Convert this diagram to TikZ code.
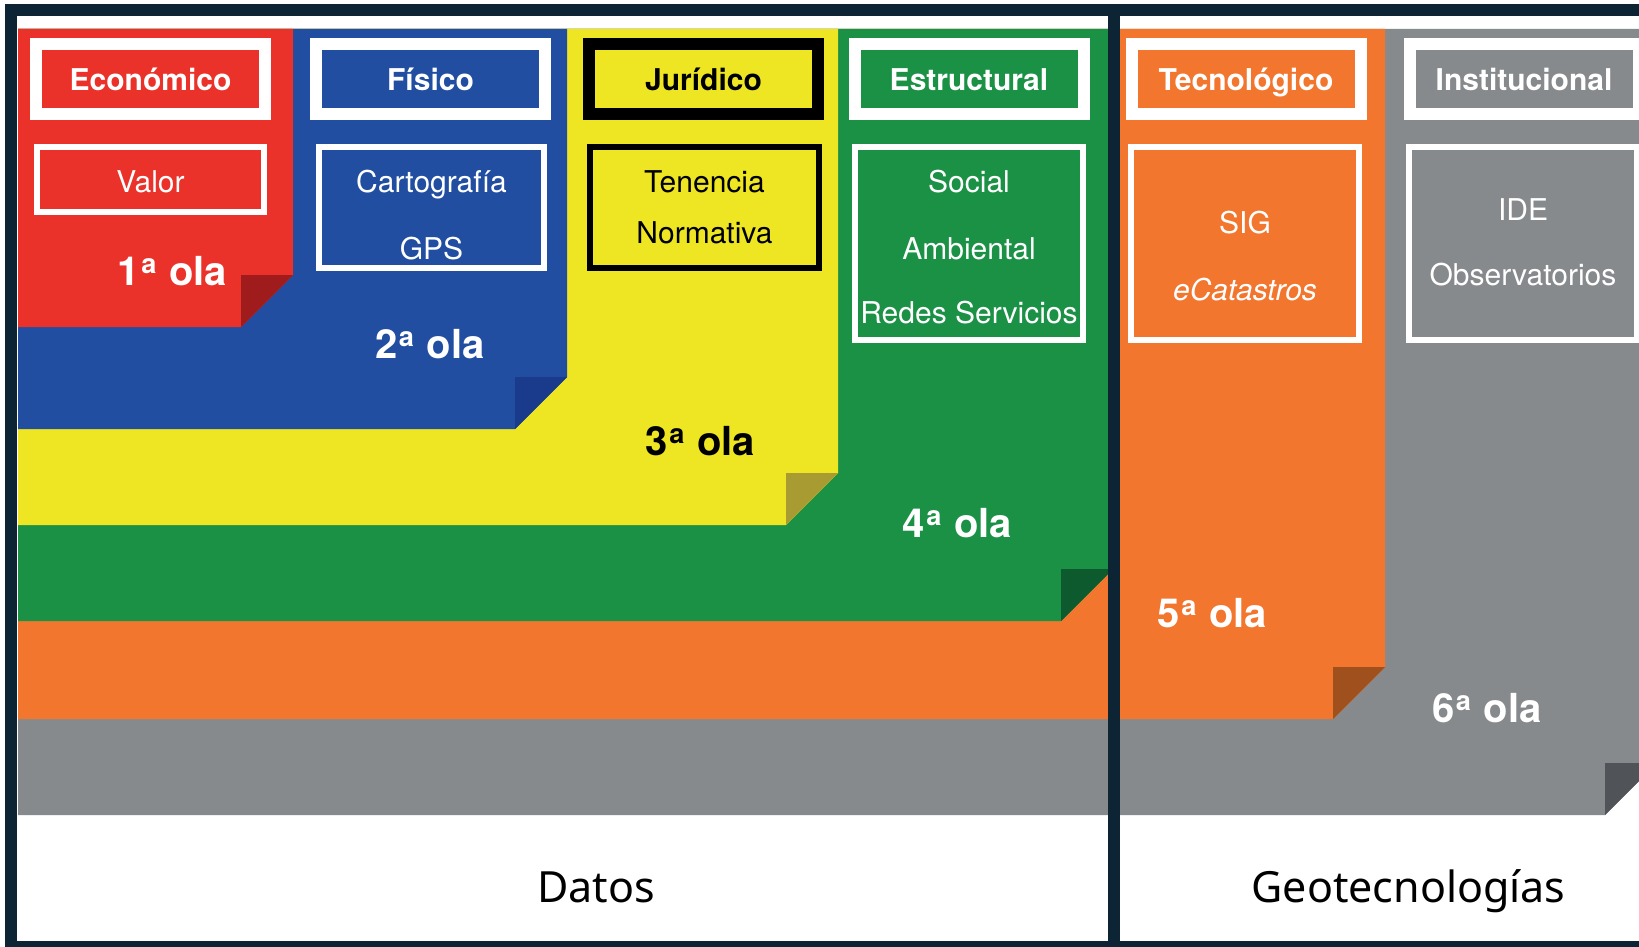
\documentclass[tikz,border=0pt]{standalone}
\usepackage{fontspec}
\setmainfont{TeX Gyre Heros}
\newfontfamily\lblfont{Noto Sans}
\definecolor{navy}{RGB}{12,36,52}
\definecolor{cred}{RGB}{234,50,42}
\definecolor{credD}{RGB}{160,28,28}
\definecolor{cblue}{RGB}{33,78,161}
\definecolor{cblueD}{RGB}{26,58,140}
\definecolor{cyellow}{RGB}{238,230,34}
\definecolor{cyellowD}{RGB}{168,155,50}
\definecolor{cgreen}{RGB}{27,145,70}
\definecolor{cgreenD}{RGB}{12,90,45}
\definecolor{corange}{RGB}{242,118,46}
\definecolor{corangeD}{RGB}{160,80,28}
\definecolor{cgray}{RGB}{135,138,140}
\definecolor{cgrayD}{RGB}{80,84,88}
\newcommand\olalayer[4]{%
  \fill[#3] (18,29) -- (#1,29) -- (#1,{#2-52}) -- ({#1-52},#2) -- (18,#2) -- cycle;
  \fill[#4] ({#1-52},{#2-52}) -- (#1,{#2-52}) -- ({#1-52},#2) -- cycle;}
\newcommand\ordA{\kern0.03em\raisebox{0.3em}{\scalebox{0.68}{a}}\kern0.04em}
\begin{document}
\begin{tikzpicture}[x=1pt,y=-1pt,
  hdr/.style={draw=white, line width=12pt, minimum width=229pt, minimum height=70pt, inner sep=0pt},
  sub/.style={draw=white, line width=6pt, inner sep=0pt},
  htext/.style={font=\bfseries\fontsize{30}{36}\selectfont, text=white, anchor=base, inner sep=0pt},
  stext/.style={font=\fontsize{30}{36}\selectfont, text=white, anchor=base, inner sep=0pt},
  olatext/.style={font=\bfseries\fontsize{40}{46}\selectfont, text=white, anchor=base, inner sep=0pt},
  captext/.style={font=\lblfont\fontsize{43}{50}\selectfont, text=black, anchor=base, inner sep=0pt}]
\useasboundingbox (0,0) rectangle (1639,947);
\begin{scope}
\clip (0,0) rectangle (1639,947);
\fill[white] (0,0) rectangle (1639,947);
\fill[navy] (5,4) rectangle (1639,947);
\fill[white] (17,16) rectangle (1108,941);
\fill[white] (1120,16) rectangle (1639,941);
% layers (waves)
\olalayer{1657}{815}{cgray}{cgrayD}
\olalayer{1385}{719}{corange}{corangeD}
\olalayer{1113}{621}{cgreen}{cgreenD}
\olalayer{838}{525}{cyellow}{cyellowD}
\olalayer{567}{429}{cblue}{cblueD}
\olalayer{293}{327}{cred}{credD}
% divider
\fill[navy] (1108,4) rectangle (1120,947);
% header boxes
\node[hdr, fill=cred] (econ) at (150.5,79) {};
\node[hdr, fill=cblue] (fis) at (430.5,79) {};
\node[hdr, fill=cyellow, draw=black] (jur) at (703.5,79) {};
\node[hdr, fill=cgreen] (est) at (969,79) {};
\node[hdr, fill=corange] (tec) at (1246,79) {};
\node[hdr, fill=cgray] (ins) at (1524,79) {};
\node[htext] (tecon) at (150.5,91) {Económico};
\node[htext] (tfis) at (430.5,91) {Físico};
\node[htext, text=black] (tjur) at (703.5,91) {Jurídico};
\node[htext] (test) at (969,91) {Estructural};
\node[htext] (ttec) at (1246,91) {Tecnológico};
\node[htext] (tins) at (1524,91) {Institucional};
% sub boxes
\node[sub, fill=cred, minimum width=227pt, minimum height=65pt] (valor) at (150.5,179.5) {};
\node[sub, fill=cblue, minimum width=225pt, minimum height=121pt] (carto) at (431.5,207.5) {};
\node[sub, fill=cyellow, draw=black, minimum width=229pt, minimum height=121pt] (ten) at (704.5,207.5) {};
\node[sub, fill=cgreen, minimum width=228pt, minimum height=193pt] (soc) at (969,243.5) {};
\node[sub, fill=corange, minimum width=228pt, minimum height=193pt] (sig) at (1245,243.5) {};
\node[sub, fill=cgray, minimum width=228pt, minimum height=193pt] (ide) at (1523,243.5) {};
\node[stext] (tvalor) at (150.5,193) {Valor};
\node[stext] (tcarto) at (431.5,193) {Cartografía};
\node[stext] (tgps) at (431.5,259) {GPS};
\node[stext, text=black] (tten) at (704.5,193) {Tenencia};
\node[stext, text=black] (tnorm) at (704.5,243) {Normativa};
\node[stext] (tsoc) at (969,193) {Social};
\node[stext] (tamb) at (969,259) {Ambiental};
\node[stext] (tred) at (969,323) {Redes Servicios};
\node[stext] (tsig) at (1245,233) {SIG};
\node[stext, font=\itshape\fontsize{30}{36}\selectfont] (tecat) at (1245,300) {eCatastros};
\node[stext] (tide) at (1523,220) {IDE};
\node[stext] (tobs) at (1523,285) {Observatorios};
% wave labels
\node[olatext] (o1) at (172.5,285) {1\ordA{} ola};
\node[olatext] (o2) at (430,358) {2\ordA{} ola};
\node[olatext, text=black] (o3) at (700.5,455) {3\ordA{} ola};
\node[olatext] (o4) at (957.5,537) {4\ordA{} ola};
\node[olatext] (o5) at (1212.5,627) {5\ordA{} ola};
\node[olatext] (o6) at (1487,722) {6\ordA{} ola};
% captions
\node[captext] (datos) at (596,902) {Datos};
\node[captext] (geo) at (1408.5,902) {Geotecnologías};
\end{scope}
\end{tikzpicture}
\end{document}
